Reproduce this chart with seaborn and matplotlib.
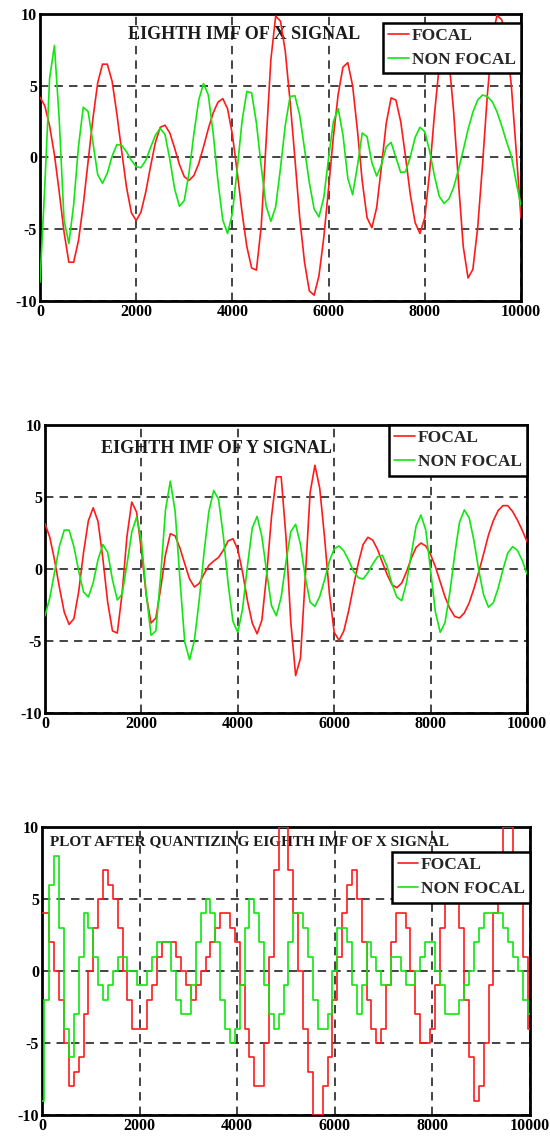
import numpy as np
import pandas as pd
import matplotlib
matplotlib.use('Agg')
import matplotlib.pyplot as plt
import seaborn as sns

sns.set_style('white')
plt.rcParams['font.family'] = ['Liberation Serif', 'DejaVu Serif']
plt.rcParams['font.weight'] = 'bold'
plt.rcParams['axes.unicode_minus'] = False

RED = '#ff1a1a'
GREEN = '#11e611'

# sample positions (every 100 samples)
samples = np.arange(0, 10001, 100)

# eighth IMF of X signal
focal_x = [4.2, 3.6, 2.2, 0.2, -2.4, -5.2, -7.3, -7.3, -5.8, -3.3,
           -0.3, 2.7, 5.2, 6.5, 6.5, 5.3, 3.0, 0.4, -2.1, -3.85,
           -4.4, -3.8, -2.4, -0.6, 1.05, 2.1, 2.25, 1.7, 0.64, -0.5,
           -1.34, -1.6, -1.26, -0.43, 0.74, 2.0, 3.1, 3.85, 4.1, 3.4,
           1.6, -1.0, -3.8, -6.2, -7.7, -7.85, -4.8, 1.0, 6.8, 9.85,
           9.5, 7.4, 3.9, -0.05, -4.2, -7.3, -9.3, -9.6, -8.25, -5.6,
           -2.15, 1.45, 4.4, 6.3, 6.6, 5.0, 1.9, -1.65, -4.2, -4.9,
           -3.5, -0.6, 2.4, 4.15, 4.0, 2.5, 0.05, -2.6, -4.55, -5.3,
           -4.2, -1.05, 2.95, 6.35, 8.0, 6.9, 3.2, -1.7, -6.2, -8.4,
           -7.8, -4.9, -0.55, 4.3, 8.15, 9.9, 9.6, 8.2, 5.0, 0.5,
           -4.2]
nonfocal_x = [-8.7, -2.0, 5.5, 7.8, 2.65, -4.35, -6.0, -3.3, 0.75, 3.5,
              3.2, 1.05, -1.2, -1.8, -1.1, 0.1, 0.9, 0.84, 0.39, -0.2,
              -0.65, -0.71, -0.2, 0.7, 1.55, 2.03, 1.6, -0.15, -2.2, -3.4,
              -3.0, -1.05, 1.65, 4.0, 5.15, 4.35, 1.7, -1.65, -4.35, -5.3,
              -3.9, -0.85, 2.5, 4.6, 4.5, 2.4, -0.65, -3.35, -4.45, -3.45,
              -0.75, 2.25, 4.25, 4.3, 2.95, 0.6, -1.75, -3.6, -4.15, -2.8,
              -0.05, 2.5, 3.4, 1.55, -1.45, -2.6, -0.6, 1.7, 1.45, -0.35,
              -1.3, -0.5, 0.75, 1.05, 0.0, -1.05, -1.0, 0.05, 1.4, 2.1,
              1.8, 0.45, -1.25, -2.7, -3.2, -2.9, -2.1, -0.85, 0.5, 1.95,
              3.15, 4.0, 4.35, 4.25, 3.9, 3.2, 2.2, 1.1, 0.1, -1.7,
              -3.35]

# eighth IMF of Y signal
focal_y = [3.15, 2.2, 0.6, -1.3, -3.0, -3.85, -3.45, -1.55, 1.15, 3.35,
           4.25, 3.3, 0.75, -2.3, -4.3, -4.45, -1.7, 2.25, 4.65, 3.95,
           1.3, -1.8, -3.75, -3.4, -1.35, 1.0, 2.45, 2.3, 1.45, 0.35,
           -0.7, -1.25, -1.0, -0.35, 0.25, 0.55, 0.8, 1.3, 1.95, 2.1,
           1.35, -0.25, -2.2, -3.75, -4.5, -3.55, -0.35, 3.65, 6.4, 6.4,
           2.2, -3.7, -7.4, -6.2, -0.6, 5.3, 7.2, 5.6, 2.2, -1.7,
           -4.4, -4.95, -4.3, -2.9, -1.2, 0.4, 1.7, 2.2, 2.0, 1.35,
           0.45, -0.4, -1.1, -1.3, -0.98, -0.2, 0.75, 1.5, 1.8, 1.6,
           1.0, 0.15, -0.9, -1.95, -2.75, -3.3, -3.4, -3.05, -2.35, -1.35,
           -0.2, 1.05, 2.35, 3.35, 4.05, 4.4, 4.4, 4.0, 3.4, 2.7,
           1.9]
nonfocal_y = [-3.25, -2.0, -0.2, 1.6, 2.7, 2.7, 1.55, -0.15, -1.6, -1.95,
              -0.95, 0.65, 1.7, 1.15, -0.75, -2.15, -1.75, 0.3, 2.55, 3.6,
              2.0, -1.7, -4.6, -4.3, -0.45, 4.1, 6.1, 4.0, -0.75, -5.1,
              -6.3, -4.95, -2.15, 1.15, 4.0, 5.45, 4.85, 2.3, -1.05, -3.65,
              -4.4, -2.75, 0.2, 2.85, 3.65, 2.25, -0.25, -2.55, -3.25, -1.95,
              0.5, 2.6, 3.1, 1.7, -0.55, -2.3, -2.6, -1.9, -0.75, 0.55,
              1.4, 1.6, 1.25, 0.6, -0.15, -0.6, -0.7, -0.25, 0.35, 0.85,
              0.95, 0.15, -1.05, -1.95, -2.2, -0.95, 1.05, 3.0, 3.75, 2.7,
              -0.1, -3.0, -4.4, -3.7, -1.6, 1.0, 3.25, 4.1, 3.55, 1.95,
              -0.1, -1.8, -2.65, -2.35, -1.35, -0.05, 1.1, 1.55, 1.3, 0.6,
              -0.35]

# quantized eighth IMF of X signal
focal_xq = [4, 4, 2, 0, -2, -5, -8, -7, -6, -3,
            0, 3, 5, 7, 6, 5, 3, 0, -2, -4,
            -4, -4, -2, -1, 1, 2, 2, 2, 1, 0,
            -1, -2, -1, 0, 1, 2, 3, 4, 4, 3,
            2, -1, -4, -6, -8, -8, -5, 1, 7, 10,
            10, 7, 4, 0, -4, -7, -10, -10, -8, -6,
            -2, 1, 4, 6, 7, 5, 2, -2, -4, -5,
            -4, -1, 2, 4, 4, 3, 0, -3, -5, -5,
            -4, -1, 3, 6, 8, 7, 3, -2, -6, -9,
            -8, -5, -1, 4, 8, 10, 10, 8, 5, 1,
            -4]
nonfocal_xq = [-9, -2, 6, 8, 3, -4, -6, -3, 1, 4,
               3, 1, -1, -2, -1, 0, 1, 1, 0, 0,
               -1, -1, 0, 1, 2, 2, 2, 0, -2, -3,
               -3, -1, 2, 4, 5, 4, 2, -2, -4, -5,
               -4, -1, 3, 5, 4, 2, -1, -3, -4, -3,
               -1, 2, 4, 4, 3, 1, -2, -4, -4, -3,
               0, 3, 3, 2, -1, -3, -1, 2, 1, 0,
               -1, -1, 1, 1, 0, -1, -1, 0, 1, 2,
               2, 0, -1, -3, -3, -3, -2, -1, 0, 2,
               3, 4, 4, 4, 4, 3, 2, 1, 0, -2,
               -3]

x_ticks = [0, 2000, 4000, 6000, 8000, 10000]
y_ticks = [-10, -5, 0, 5, 10]

fig = plt.figure(figsize=(5.5, 11.43), dpi=100)


def draw_panel(rect, focal, nonfocal, title, title_xy, title_size, title_ha,
               legend_anchor, steps=False):
    ax = fig.add_axes(rect)
    df = pd.DataFrame({'Sample': samples, 'FOCAL': focal, 'NON FOCAL': nonfocal})
    kw = {'drawstyle': 'steps-mid'} if steps else {}
    sns.lineplot(data=df, x='Sample', y='FOCAL', ax=ax, color=RED,
                 linewidth=1.2, label='FOCAL', zorder=3, **kw)
    sns.lineplot(data=df, x='Sample', y='NON FOCAL', ax=ax, color=GREEN,
                 linewidth=1.2, label='NON FOCAL', zorder=3, **kw)
    ax.set_xlim(0, 10000)
    ax.set_ylim(-10, 10)
    ax.set_xticks(x_ticks)
    ax.set_yticks(y_ticks)
    ax.set_xlabel('')
    ax.set_ylabel('')
    ax.grid(True, color='#111111', linestyle=(0, (5.5, 4)), linewidth=1.1)
    for s in ax.spines.values():
        s.set_linewidth(2.0)
        s.set_color('black')
    ax.tick_params(direction='in', length=3, labelsize=11.5, pad=2,
                   colors='black')
    for lab in ax.get_xticklabels() + ax.get_yticklabels():
        lab.set_fontweight('bold')
    ax.text(title_xy[0], title_xy[1], title, transform=ax.transAxes,
            ha=title_ha, va='center', fontsize=title_size,
            fontweight='bold', color='#1a1a1a', zorder=1)
    leg = ax.legend(loc='upper right', bbox_to_anchor=legend_anchor,
                    borderaxespad=0, fancybox=False, framealpha=1,
                    edgecolor='black', handlelength=1.2,
                    handletextpad=0.15, labelspacing=0.45, borderpad=0.3,
                    prop={'weight': 'bold', 'size': 12.5})
    leg.get_frame().set_linewidth(1.8)
    leg.set_zorder(5)
    return ax


draw_panel([0.0727, 0.7367, 0.8745, 0.2511], focal_x, nonfocal_x,
           'EIGHTH IMF OF X SIGNAL', (0.424, 0.927), 13, 'center',
           (1.0, 0.969))
draw_panel([0.0818, 0.3762, 0.8764, 0.2520], focal_y, nonfocal_y,
           'EIGHTH IMF OF Y SIGNAL', (0.355, 0.917), 13, 'center',
           (1.0, 1.0))
draw_panel([0.0764, 0.0245, 0.8873, 0.2520], focal_xq, nonfocal_xq,
           'PLOT AFTER QUANTIZING EIGHTH IMF OF X SIGNAL', (0.016, 0.948),
           11, 'left', (1.0, 0.913), steps=True)

fig.savefig('out.png', dpi=100)
